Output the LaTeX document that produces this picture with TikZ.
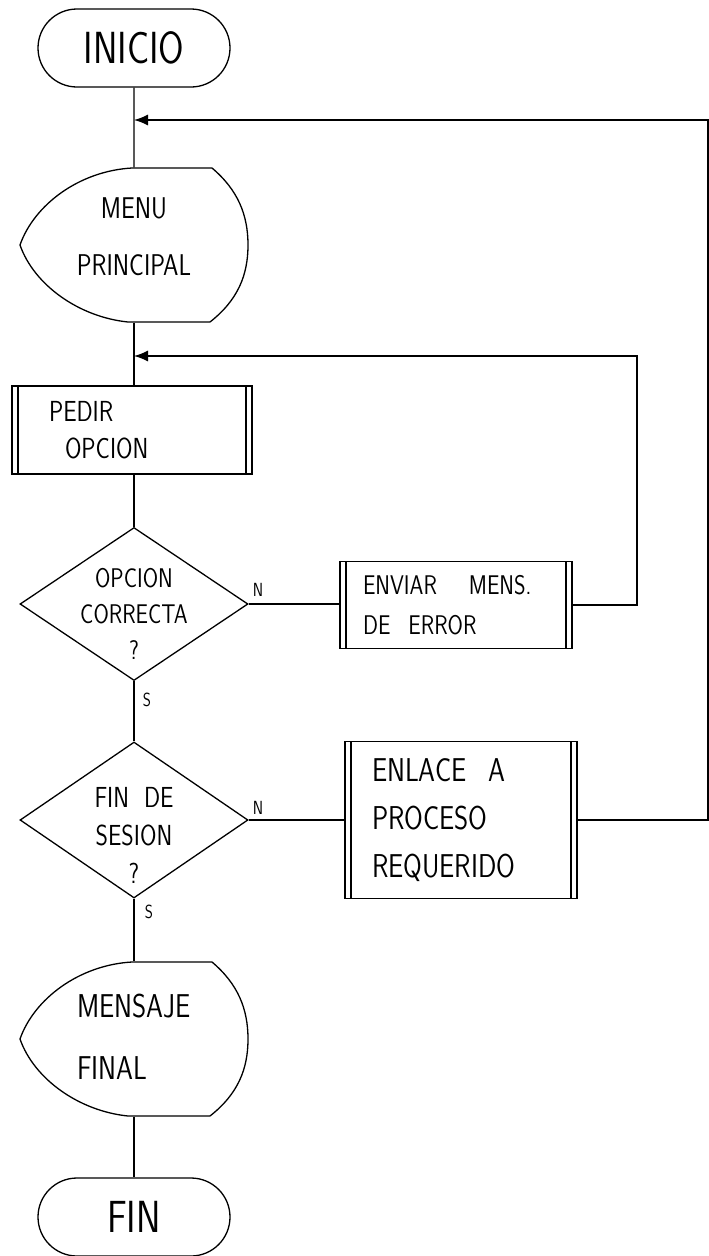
\documentclass[tikz,border=0pt]{standalone}
\usepackage{fontspec}
\newfontfamily\handfont[FakeStretch = 0.82]{Latin Modern Sans}
\usetikzlibrary{shapes.geometric, shapes.misc, arrows.meta}

\tikzset{
  terminal/.style = {draw, rounded rectangle, minimum width = 192, minimum height = 78, inner sep = 0, font = \handfont\fontsize{45}{50}\selectfont},
  display/.style = {minimum width = 228, minimum height = 154, inner sep = 0},
  disptext/.style = {font = \handfont\fontsize{30}{57}\selectfont},
  process/.style = {draw, rectangle, minimum width = 232, minimum height = 87, inner sep = 0, align = left,
    font = \handfont\fontsize{27}{40}\selectfont,
    path picture = {
      \draw ([xshift = 6]path picture bounding box.north west) -- ([xshift = 6]path picture bounding box.south west);
      \draw ([xshift = -6]path picture bounding box.north east) -- ([xshift = -6]path picture bounding box.south east);
    }},
  decision/.style = {draw, diamond, minimum width = 228, minimum height = 153, inner sep = 0},
  dectext/.style = {align = center, font = \handfont\fontsize{27}{36}\selectfont},
  branch/.style = {inner sep = 0, font = \handfont\fontsize{19}{20}\selectfont},
  back/.style = {-{Latex[length = 14pt, width = 11pt]}}
}

% outline of a display symbol round a node
\newcommand{\dispshape}[1]{%
  \begin{scope}[shift = {(#1.center)}]
    \draw (-2,-77) -- (78,-77) .. controls (104,-55) and (114,-30) .. (114,0)
      .. controls (114,30) and (104,55) .. (76,77) -- (-6,77)
      .. controls (-55,72) and (-100,40) .. (-114,0)
      .. controls (-100,-40) and (-55,-74) .. (-2,-77) -- cycle;
  \end{scope}}

\begin{document}
\begin{tikzpicture}[x = 1pt, y = -1pt, line width = 1.3pt]
    \useasboundingbox (0,0) rectangle (709,1256);

    \node[terminal] (inicio) at (134,48) {INICIO};
    \node[display] (menu) at (134,245) {};
    \dispshape{menu}
    \node[disptext, align = center] (menutext) at ([yshift = 8]menu.center) {MENU\\PRINCIPAL};
    \node[process, minimum width = 240, minimum height = 88, text width = 166,
      font = \handfont\fontsize{29}{37}\selectfont] (pedir) at (132,430) {PEDIR\\\hspace*{16pt}OPCION};
    \node[decision] (dec1) at (134,604) {};
    \node[dectext] (dec1text) at ([yshift = -10]dec1.center) {OPCION\\CORRECTA\\?};
    \node[process, text width = 186] (envia) at (456,605) {ENVIAR\hspace{32pt}MENS.\\DE\ \ ERROR};
    \node[decision, minimum height = 156] (dec2) at (134,820) {};
    \node[dectext, font = \handfont\fontsize{29}{38}\selectfont] (dec2text) at ([yshift = -15]dec2.center) {FIN\ \ DE\\SESION\\?};
    \node[process, minimum height = 157, text width = 178,
      font = \handfont\fontsize{33}{48}\selectfont] (enlace) at (461,820) {ENLACE\ \ A\\PROCESO\\REQUERIDO};
    \node[display] (mensaje) at (134,1039) {};
    \dispshape{mensaje}
    \node[disptext, align = left, font = \handfont\fontsize{33}{62}\selectfont] (mensajetext) at ([yshift = 2]mensaje.center) {MENSAJE\\FINAL};
    \node[terminal] (fin) at (134,1217) {FIN};

    \node[branch] (n1) at (258,590) {N};
    \node[branch] (s1) at (147,700) {S};
    \node[branch] (n2) at (258,808) {N};
    \node[branch] (s2) at (149,912) {S};

    \coordinate (back1) at (134,120);
    \coordinate (corner1) at (708,120);
    \coordinate (back2) at (134,356);
    \coordinate (corner2) at (637,356);

    \draw (inicio) -- (menu);
    \draw (menu) -- (menu |- pedir.north);
    \draw (menu |- pedir.south) -- (dec1);
    \draw (dec1) -- (dec2);
    \draw (dec2) -- (mensaje);
    \draw (mensaje) -- (fin);
    \draw (dec1) -- (dec1 -| envia.west);
    \draw (dec2) -- (enlace);
    \draw[back] (envia) -| (corner2) -- (back2);
    \draw[back] (enlace) -| (corner1) -- (back1);
\end{tikzpicture}
\end{document}
